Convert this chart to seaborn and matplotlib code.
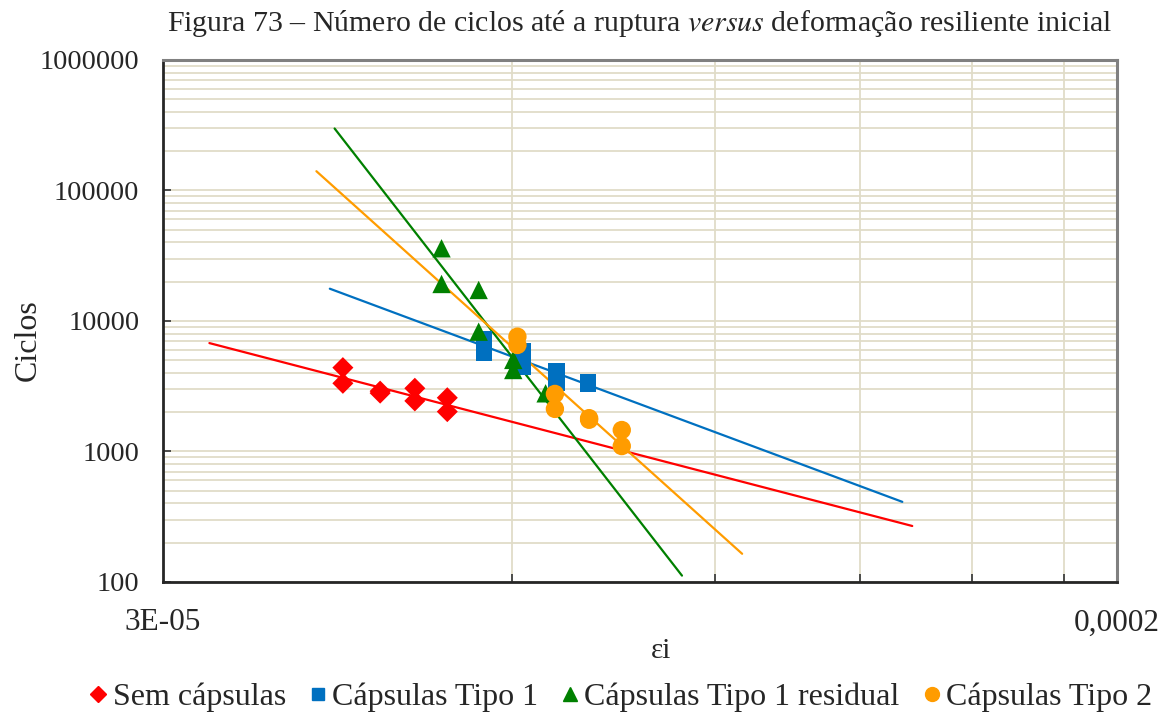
import numpy as np
import pandas as pd
import matplotlib
matplotlib.use("Agg")
import matplotlib.pyplot as plt
from matplotlib.ticker import FixedLocator, NullFormatter, FixedFormatter
import seaborn as sns

# Initial resilient strain (εi) and cycles to failure per specimen group
sem_x = [4.29e-5, 4.29e-5, 4.62e-5, 4.62e-5, 4.95e-5, 4.95e-5, 5.28e-5, 5.28e-5]
sem_y = [4390, 3330, 2900, 2800, 3050, 2440, 2580, 2020]

tipo1_x = [5.68e-5, 5.68e-5, 6.14e-5, 6.14e-5, 6.56e-5, 6.56e-5, 6.99e-5, 6.99e-5]
tipo1_y = [7280, 5660, 5890, 4470, 4160, 3330, 3400, 3300]

resid_x = [5.22e-5, 5.22e-5, 5.62e-5, 5.62e-5, 6.02e-5, 6.02e-5, 6.42e-5]
resid_y = [36060, 19210, 17280, 8280, 5030, 4210, 2790]

tipo2_x = [6.07e-5, 6.07e-5, 6.54e-5, 6.54e-5, 7.00e-5, 7.00e-5, 7.47e-5, 7.47e-5]
tipo2_y = [7580, 6550, 2760, 2120, 1800, 1750, 1460, 1100]

series = ["Sem cápsulas", "Cápsulas Tipo 1", "Cápsulas Tipo 1 residual", "Cápsulas Tipo 2"]
colors = ["#FF0000", "#0070C0", "#008000", "#FF9C00"]
markers = ["D", "s", "^", "o"]
sizes = [115, 135, 175, 175]

# x range over which each power-law trendline is drawn
trend_x0 = [3.29e-5, 4.18e-5, 4.22e-5, 4.07e-5]
trend_x1 = [1.331e-4, 1.305e-4, 8.42e-5, 9.49e-5]

y_ticks = [100, 1000, 10000, 100000, 1000000]
x_tick_labels = ["3E-05", "0,0002"]

xs = [sem_x, tipo1_x, resid_x, tipo2_x]
ys = [sem_y, tipo1_y, resid_y, tipo2_y]
df = pd.concat(
    [pd.DataFrame({"ei": x, "ciclos": y, "grupo": s}) for x, y, s in zip(xs, ys, series)],
    ignore_index=True,
)

sns.set_theme(style="white")
plt.rcParams["font.family"] = ["Liberation Serif", "DejaVu Serif"]
plt.rcParams["mathtext.fontset"] = "stix"

fig = plt.figure(figsize=(11.66, 7.2), dpi=100)
ax = fig.add_axes([0.1398, 0.1917, 0.958 - 0.1398, 0.9167 - 0.1917])
ax.set_xscale("log")
ax.set_yscale("log")
ax.set_xlim(3e-5, 2e-4)
ax.set_ylim(100, 1e6)

grid_c = "#E0DCC8"
# horizontal grid: decades plus 2..9 subdivisions
ymin_lines = [m * 10 ** e for e in range(2, 6) for m in range(2, 10)]
for yv in y_ticks + ymin_lines:
    ax.axhline(yv, color=grid_c, lw=1.3, zorder=0)
# vertical grid at multiples of 3E-05
x_minor = [6e-5, 9e-5, 1.2e-4, 1.5e-4, 1.8e-4]
for xv in x_minor:
    ax.axvline(xv, color=grid_c, lw=1.3, zorder=0)

# power-law trendlines (linear fit in log-log space)
for x, y, c, x0, x1 in zip(xs, ys, colors, trend_x0, trend_x1):
    b, loga = np.polyfit(np.log10(x), np.log10(y), 1)
    xt = np.array([x0, x1])
    ax.plot(xt, 10 ** loga * xt ** b, color=c, lw=1.6, zorder=2)

sns.scatterplot(
    data=df, x="ei", y="ciclos", hue="grupo", style="grupo",
    palette=dict(zip(series, colors)), markers=dict(zip(series, markers)),
    size="grupo", sizes=dict(zip(series, sizes)),
    edgecolor="none", linewidth=0, ax=ax, zorder=3, legend=False,
)

ax.yaxis.set_major_locator(FixedLocator(y_ticks))
ax.yaxis.set_major_formatter(FixedFormatter([str(v) for v in y_ticks]))
ax.yaxis.set_minor_locator(FixedLocator([]))
ax.yaxis.set_minor_formatter(NullFormatter())
ax.xaxis.set_major_locator(FixedLocator([3e-5, 2e-4]))
ax.xaxis.set_major_formatter(FixedFormatter(x_tick_labels))
ax.xaxis.set_minor_locator(FixedLocator(x_minor))
ax.xaxis.set_minor_formatter(NullFormatter())

ax.tick_params(axis="y", which="major", direction="in", length=6, width=1.3,
               color="#404040", labelsize=20.5, pad=17, left=True)
ax.tick_params(axis="x", which="major", length=0, labelsize=22.5, pad=19)
ax.tick_params(axis="x", which="minor", direction="in", length=6, width=1.3,
               color="#404040", bottom=True)

for side in ["left", "bottom"]:
    ax.spines[side].set_color("#262626")
    ax.spines[side].set_linewidth(2)
for side in ["top", "right"]:
    ax.spines[side].set_color("#808080")
    ax.spines[side].set_linewidth(2.2)

ax.set_xlabel("εi", fontsize=21, va="top")
ax.xaxis.set_label_coords(0.522, -0.107)
ax.set_ylabel("Ciclos", fontsize=23)
ax.yaxis.set_label_coords(-0.126, 0.464)
ax.set_title("Figura 73 – Número de ciclos até a ruptura $\\it{versus}$ deformação resiliente inicial",
             fontsize=21.5, pad=21)

handles = [
    plt.Line2D([], [], ls="none", marker=m, color=c, markersize=ms)
    for m, c, ms in zip(markers, colors, [8, 9, 10, 10])
]
fig.legend(handles, series, loc="center", bbox_to_anchor=(0.530, 0.032), ncol=4,
           frameon=False, fontsize=23, handletextpad=0.0, columnspacing=0.55,
           handlelength=0.9, borderpad=0.2)

fig.savefig("out.png", dpi=100)
